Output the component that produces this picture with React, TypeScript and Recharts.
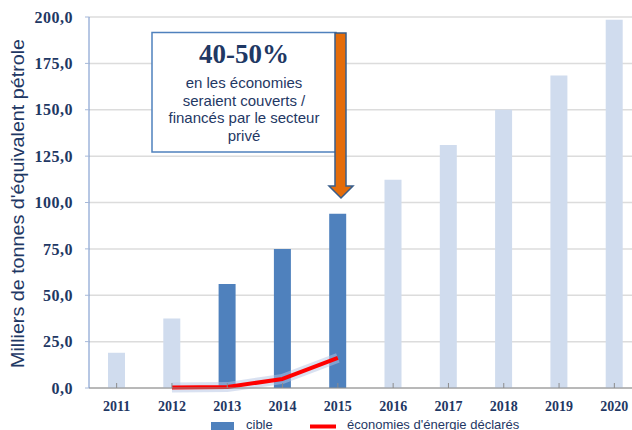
import React from "react"
import { ComposedChart, Bar, Line, XAxis, YAxis, CartesianGrid, Cell, Legend } from "recharts"

// valeurs (milliers de tep)
const years = ["2011", "2012", "2013", "2014", "2015", "2016", "2017", "2018", "2019", "2020"]
const cible = [19, 37.5, 56, 75, 94, 112.3, 131, 150, 168.4, 198.5]
const declares = [null, 0.3, 0.5, 4.9, 16.2, null, null, null, null, null]
const highlighted = ["2013", "2014", "2015"]
const yTicks = [0, 25, 50, 75, 100, 125, 150, 175, 200]

const data = years.map((year, i) => ({ year, cible: cible[i], declares: declares[i] }))

const NAVY = "#1f3864"
const DARK = "#4f81bd"
const LIGHT = "#d0dcee"
const SERIF = "'Liberation Serif', 'Times New Roman', serif"
const SANS = "'Liberation Sans', Arial, sans-serif"

const fmt = (v: number) => v.toFixed(1).replace(".", ",")

const XTick = ({ x, y, payload }: any) => (
  <g>
    <line x1={x} x2={x} y1={y} y2={y - 5} stroke="#8c8c8c" />
    <text x={x} y={y + 22.5} textAnchor="middle" fill={NAVY} fontFamily={SERIF} fontWeight="bold" fontSize={14}>
      {payload.value}
    </text>
  </g>
)

const LegendContent = () => (
  <svg width={420} height={20} style={{ display: "block", overflow: "visible" }}>
    <rect x={0} y={4} width={23} height={12} fill={DARK} />
    <text x={35} y={11} fill={NAVY} fontFamily={SANS} fontSize={13}>cible</text>
    <line x1={99} x2={125} y1={8.5} y2={8.5} stroke="#ff0000" strokeWidth={4} />
    <text x={136} y={11} fill={NAVY} fontFamily={SANS} fontSize={13}>économies d'énergie déclarés</text>
  </svg>
)

export default function App() {
  return (
    <div style={{ position: "absolute", left: 0, top: 0, width: 632, height: 430, overflow: "hidden", background: "#fff" }}>
      <ComposedChart width={660} height={430} data={data} margin={{ top: 17, right: 18, left: 0, bottom: 12 }}>
        <CartesianGrid vertical={false} stroke="#dcdcdc" strokeWidth={1.5} />
        <XAxis
          dataKey="year"
          height={30}
          axisLine={{ stroke: "#8c8c8c" }}
          tickLine={false}
          tickSize={0}
          tickMargin={0}
          tick={<XTick />}
          interval={0}
        />
        <YAxis
          width={89}
          domain={[0, 200]}
          ticks={yTicks}
          tickFormatter={fmt}
          axisLine={{ stroke: "#6f8fc8" }}
          tickLine={{ stroke: "#a6b8d8" }}
          tickSize={4}
          tickMargin={12}
          tick={{ fill: NAVY, fontFamily: SERIF, fontWeight: "bold", fontSize: 16, letterSpacing: 0.5 }}
          label={{
            content: () => (
              <text
                x={24}
                y={203.5}
                transform="rotate(-90 24 203.5)"
                textAnchor="middle"
                fill={NAVY}
                fontFamily={SANS}
                fontSize={18}
                textLength={329}
                lengthAdjust="spacingAndGlyphs"
              >
                Milliers de tonnes d'équivalent pétrole
              </text>
            ),
          }}
        />
        <Legend
          layout="horizontal"
          verticalAlign="middle"
          align="center"
          content={<LegendContent />}
          wrapperStyle={{ position: "absolute", left: 211, top: 418, width: 420 }}
        />
        <Bar dataKey="cible" barSize={17} isAnimationActive={false}>
          {data.map((d) => (
            <Cell key={d.year} fill={highlighted.includes(d.year) ? DARK : LIGHT} />
          ))}
        </Bar>
        <Line
          dataKey="declares"
          type="linear"
          stroke="#b3c4e3"
          strokeOpacity={0.5}
          strokeWidth={10}
          dot={false}
          activeDot={false}
          legendType="none"
          isAnimationActive={false}
        />
        <Line
          dataKey="declares"
          type="linear"
          stroke="#ff0000"
          strokeWidth={4}
          strokeLinejoin="round"
          dot={false}
          activeDot={false}
          isAnimationActive={false}
        />
      </ComposedChart>
      <svg width={632} height={430} style={{ position: "absolute", left: 0, top: 0, pointerEvents: "none" }}>
        <rect x={152} y={32.5} width={184} height={119.5} fill="#fff" stroke={DARK} strokeWidth={1.5} />
        <text x={244} y={63} textAnchor="middle" fill={NAVY} fontFamily={SERIF} fontWeight="bold" fontSize={27}>
          40-50%
        </text>
        <g fill={NAVY} fontFamily={SANS} fontSize={15} textAnchor="middle">
          <text x={244} y={88}>en les économies</text>
          <text x={244} y={105.5}>seraient couverts /</text>
          <text x={244} y={123}>financés par le secteur</text>
          <text x={244} y={140.5}>privé</text>
        </g>
        <polygon
          points="335,33 346,33 346,186 353,186 341,198 329,186 335,186"
          fill="#e46c0a"
          stroke="#385d8a"
          strokeWidth={1.5}
        />
      </svg>
    </div>
  )
}
